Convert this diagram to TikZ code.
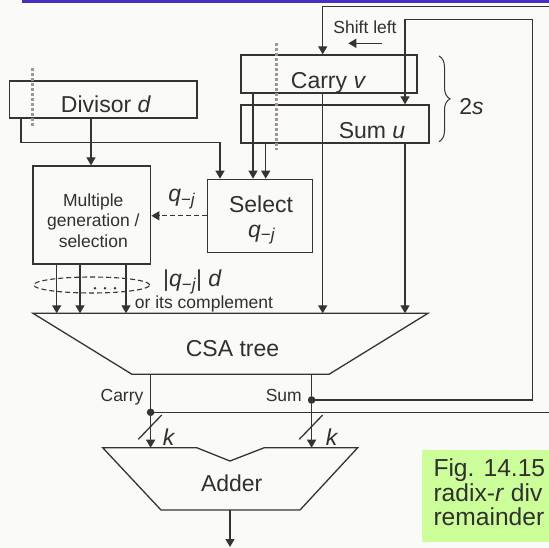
\documentclass[tikz,border=0pt]{standalone}
\usepackage{fontspec}
\setmainfont{Liberation Sans}
\usetikzlibrary{arrows.meta,decorations.pathreplacing,calc,shapes.geometric}
\definecolor{bgc}{RGB}{250,250,248}
\definecolor{lnc}{RGB}{52,52,52}
\definecolor{txc}{RGB}{48,48,48}
\definecolor{barc}{RGB}{70,48,190}
\definecolor{capc}{RGB}{204,255,153}
\definecolor{dotc}{RGB}{160,152,142}
\newcommand{\qsub}{\textit{q}\raisebox{-3.5pt}{\fontsize{17}{17}\selectfont −\textit{j}}}
\begin{document}
\begin{tikzpicture}[x=1pt,y=-1pt,
  conn/.style={draw=lnc,line width=1.3pt},
  arr/.style={conn,-{Triangle[length=8pt,width=9pt]}},
  boxn/.style={draw=lnc,line width=1.3pt,inner sep=0pt},
  bigtxt/.style={text=txc,font=\fontsize{23}{24}\selectfont,inner sep=0pt},
  smalltxt/.style={text=txc,font=\fontsize{17.5}{20.5}\selectfont,inner sep=0pt},
  captxt/.style={text=txc,font=\fontsize{24.6}{25}\selectfont,inner sep=0pt},
  dotted gray/.style={draw=dotc,line width=2.8pt,dash pattern=on 3pt off 2pt}]
\useasboundingbox (0,0) rectangle (549,548);
\fill[bgc] (0,0) rectangle (549,548);
\fill[barc] (22,0) rectangle (549,2.7);

% boxes
\node[boxn,minimum width=176pt,minimum height=38pt] (carry) at (329,74) {};
\node[boxn,minimum width=188pt,minimum height=38pt] (sum) at (335,124) {};
\node[boxn,minimum width=187.5pt,minimum height=37pt] (div) at (103.25,99.5) {};
\node[boxn,minimum width=105pt,minimum height=73pt] (sel) at (260.2,215.8) {};
\node[boxn,minimum width=117.7pt,minimum height=98pt] (mg) at (91.85,215) {};

% box texts
\node[bigtxt,anchor=base] (carryT) at (328.5,88.3) {Carry \textit{v}};
\node[bigtxt,anchor=base] (sumT) at (372,138.3) {Sum \textit{u}};
\node[bigtxt,anchor=base] (divT) at (106,112.7) {Divisor \textit{d}};
\node[bigtxt,anchor=base] (selT1) at (261,212.7) {Select};
\node[bigtxt,anchor=base] (selT2) at (261.5,237.3) {\qsub};
\node[smalltxt,anchor=base] (mgT1) at (93.3,206.5) {Multiple};
\node[smalltxt,anchor=base] (mgT2) at (93.3,227) {generation /};
\node[smalltxt,anchor=base] (mgT3) at (93.3,247.5) {selection};

% CSA tree
\coordinate (csaTL) at (33,313.3);
\coordinate (csaTR) at (428,313.3);
\coordinate (csaBR) at (329,374.3);
\coordinate (csaBL) at (132,374.3);
\draw[conn] (csaTL) -- (csaTR) -- (csaBR) -- (csaBL) -- cycle;
\node[bigtxt,anchor=base] (csaT) at (232.5,356.7) {CSA tree};

% Adder
\coordinate (adTL) at (102.7,447.7);
\coordinate (adN1) at (196.7,447.7);
\coordinate (adNotch) at (230,461);
\coordinate (adN2) at (264.3,447.7);
\coordinate (adTR) at (357.7,447.7);
\coordinate (adBR) at (300,510);
\coordinate (adBL) at (161,510);
\coordinate (adOut) at (230,510);
\coordinate (outEnd) at (230,547);
\draw[conn] (adTL) -- (adN1) -- (adNotch) -- (adN2) -- (adTR) -- (adBR) -- (adBL) -- cycle;
\node[bigtxt,anchor=base] (adT) at (231.7,491.7) {Adder};
\draw[arr] (adOut) -- (outEnd);

% column coordinates
\coordinate (xA) at (322.7,0);
\coordinate (xB) at (405,0);
\coordinate (xC) at (253,0);
\coordinate (xD) at (265.7,0);
\coordinate (xF) at (21,0);
\coordinate (xG) at (91,0);
\coordinate (xM1) at (56.7,0);
\coordinate (xM2) at (80,0);
\coordinate (xM3) at (126,0);
\coordinate (dselL) at (21,142.3);
\coordinate (dselR) at (220,142.3);

% dots
\coordinate (cdot) at (150.6,412.3);
\coordinate (sdot) at (311.6,400);

% feedback loops
\coordinate (oR1) at (553,412.3);
\coordinate (oR2) at (553,6.3);
\coordinate (oL) at (322.7,6.3);
\draw[arr] (cdot) -- (oR1) -- (oR2) -- (oL) -- (carry.north -| oL);
\coordinate (iR1) at (532.7,400);
\coordinate (iR2) at (532.7,19.3);
\coordinate (iL) at (405,19.3);
\draw[arr] (sdot) -- (iR1) -- (iR2) -- (iL) -- (sum.north -| iL);

% shift left
\node[smalltxt,anchor=base] (shiftT) at (365,33.3) {Shift left};
\coordinate (slA) at (381.7,43.3);
\coordinate (slB) at (348.3,43.3);
\draw[arr] (slA) -- (slB);

% brace
\coordinate (brT) at (439,56);
\coordinate (brB) at (439,141.7);
\draw[draw=lnc,line width=1pt,decorate,decoration={brace,amplitude=11pt}] (brT) -- (brB);
\node[bigtxt,anchor=base] (twos) at (471.5,115) {2\textit{s}};

% connections
\draw[arr] (carry.south -| xA) -- (csaTL -| xA);
\draw[arr] (sum.south -| xB) -- (csaTL -| xB);
\draw[arr] (carry.south -| xC) -- (sel.north -| xC);
\draw[arr] (sum.south -| xD) -- (sel.north -| xD);
\draw[arr] (div.south -| xF) -- (dselL) -- (dselR) -- (sel.north -| dselR);
\draw[arr] (div.south -| xG) -- (mg.north -| xG);
\draw[arr,dash pattern=on 5pt off 3pt] (sel.west) -- (sel.west -| mg.east);
\node[bigtxt,anchor=base] (qlab) at (181.7,201.7) {\qsub};

\draw[arr] (mg.south -| xM1) -- (csaTL -| xM1);
\draw[arr] (mg.south -| xM2) -- (csaTL -| xM2);
\draw[arr] (mg.south -| xM3) -- (csaTL -| xM3);
\node[ellipse,draw=lnc,line width=1.1pt,dash pattern=on 5pt off 3pt,minimum width=116pt,minimum height=16pt,inner sep=0pt] (grp) at (91.7,285) {};
\fill[lnc] (95,288.3) circle (1.4pt) (105,288.3) circle (1.4pt) (115,288.3) circle (1.4pt);
\node[bigtxt,anchor=base] (qdlab) at (192.5,286.7) {|\qsub| \textit{d}};
\node[smalltxt,anchor=base] (complab) at (204,308.3) {or its complement};

% CSA outputs
\draw[conn] (csaBL -| cdot) -- (cdot);
\draw[conn] (csaBL -| sdot) -- (sdot);
\draw[arr] (cdot) -- (adTL -| cdot);
\draw[arr] (sdot) -- (adTL -| sdot);
\fill[lnc] (cdot) circle (3.8pt);
\fill[lnc] (sdot) circle (3.8pt);
\node[smalltxt,anchor=base east] (carryL) at (143.6,401) {Carry};
\node[smalltxt,anchor=base east] (sumL) at (302,401) {Sum};

% bus slashes
\draw[conn] ($(cdot)+(-12.3,27)$) -- ($(cdot)+(11.1,2.7)$);
\draw[conn] ($(sdot|-cdot)+(-12.3,27)$) -- ($(sdot|-cdot)+(11.1,2.7)$);
\node[bigtxt,anchor=base] (k1) at (169,445.7) {\textit{k}};
\node[bigtxt,anchor=base] (k2) at (332,445.7) {\textit{k}};

% dotted markers
\draw[dotted gray] (32.6,68.3) -- (32.6,126.7);
\draw[dotted gray] (276.5,43.3) -- (276.5,150);

% caption
\fill[capc] (421.7,450) rectangle (553,541.7);
\node[captxt,anchor=base west] (cap1) at (433.3,476.7) {Fig. 14.15};
\node[captxt,anchor=base west] (cap2) at (433.3,501) {radix-\textit{r} div};
\node[captxt,anchor=base west] (cap3) at (433.3,525) {remainder};
\end{tikzpicture}
\end{document}
